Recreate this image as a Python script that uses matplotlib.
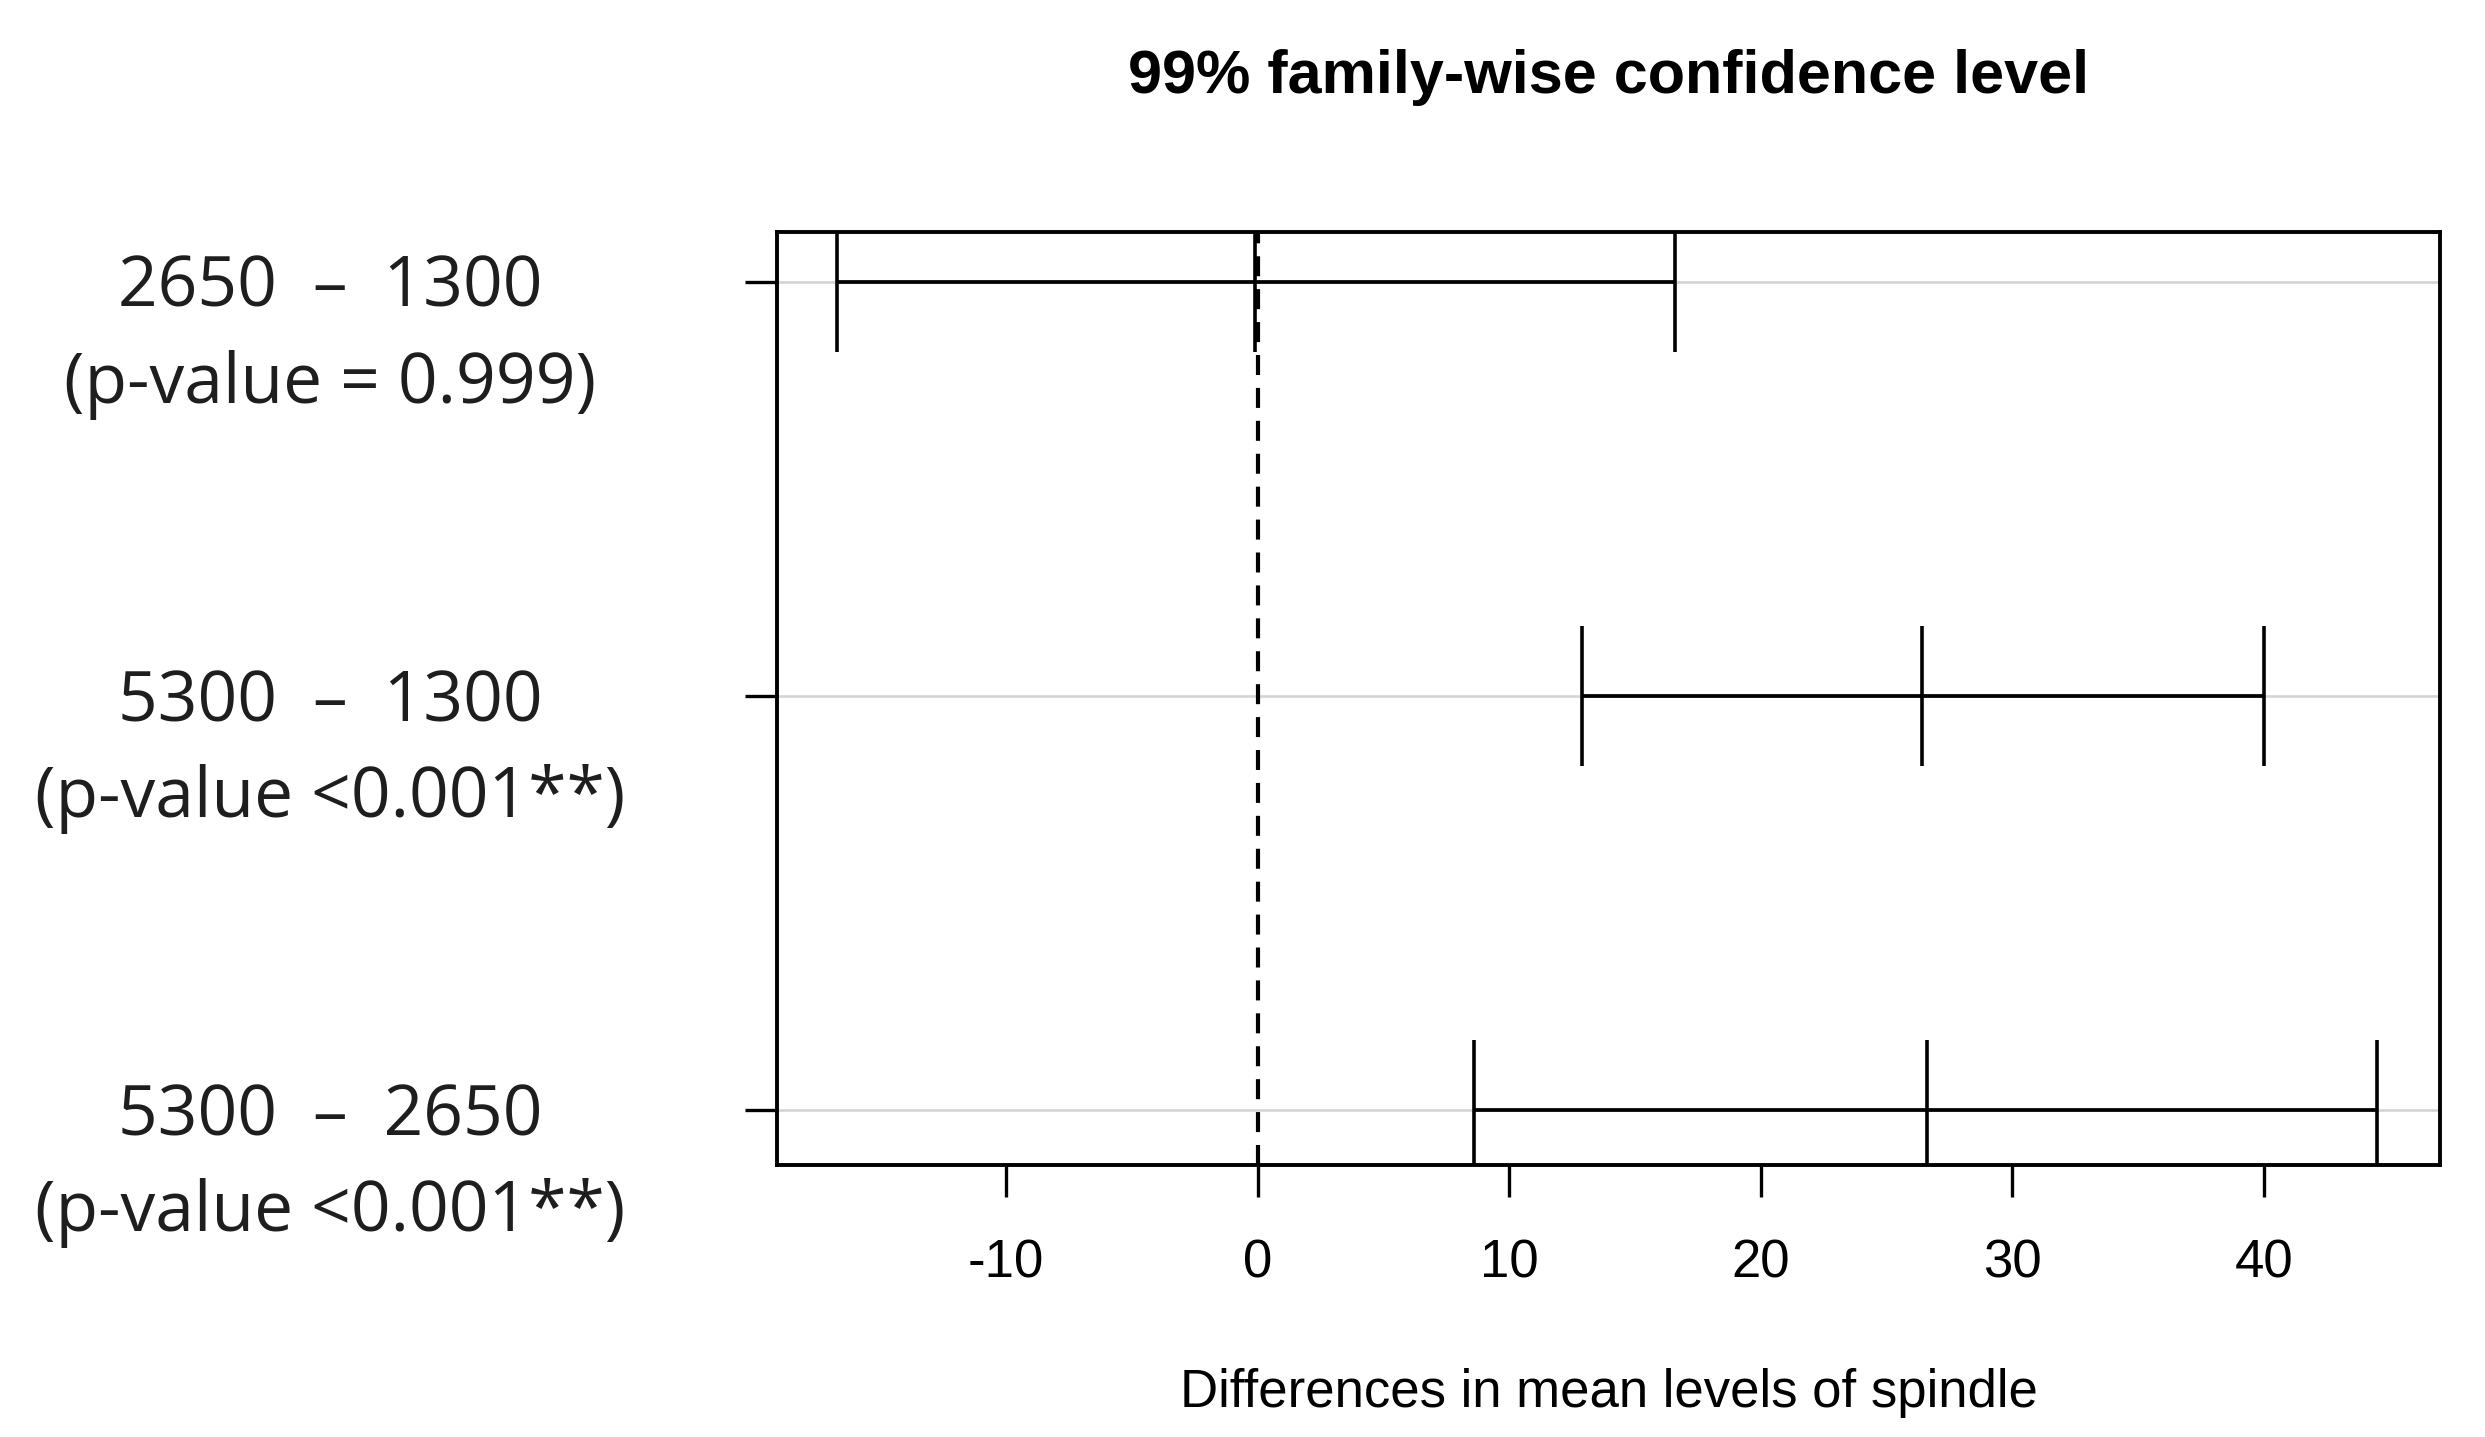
import matplotlib
matplotlib.use("Agg")
import matplotlib.pyplot as plt
import matplotlib.transforms as mtransforms

# Tukey HSD results (spindle speed comparisons)
comparisons = ["2650  \u2013  1300", "5300  \u2013  1300", "5300  \u2013  2650"]
p_labels = ["(p-value = 0.999)", "(p-value <0.001**)", "(p-value <0.001**)"]
diff = [-0.1, 26.4, 26.6]
lwr = [-16.7, 12.9, 8.6]
upr = [16.6, 40.0, 44.5]
xticks = [-10, 0, 10, 20, 30, 40]

plt.rcParams["font.family"] = ["Liberation Sans", "DejaVu Sans"]
plt.rcParams["axes.unicode_minus"] = False

fig = plt.figure(figsize=(24.85, 14.37), dpi=100)
ax = fig.add_axes([777 / 2485, 1 - 1165 / 1437, (2440 - 777) / 2485, (1165 - 232) / 1437])

n = len(comparisons)
yvals = list(range(n, 0, -1))  # top row first, like R

# light grey guide lines at each comparison
for y in yvals:
    ax.axhline(y, color="#d4d4d4", lw=1.9, zorder=1)

# zero reference line
ax.axvline(0, color="black", lw=3.0, linestyle=(0, (4.8, 3.1)), zorder=2)

# intervals
ax.hlines(yvals, lwr, upr, color="black", lw=2.7, zorder=3)
half = 0.17
for vals in (lwr, diff, upr):
    ax.vlines(vals, [y - half for y in yvals], [y + half for y in yvals],
              color="black", lw=2.6, zorder=3)

ax.set_xlim(-19.1, 47.0)
ax.set_ylim(0.868, 3.12)

ax.set_xticks(xticks)
ax.set_xticklabels([str(t) for t in xticks])
ax.set_yticks(yvals)
ax.set_yticklabels([])
ax.tick_params(axis="both", direction="out", length=23, width=2.4, color="black")
ax.tick_params(axis="x", labelsize=38, pad=30)
for s in ax.spines.values():
    s.set_linewidth(2.8)
    s.set_color("black")

ax.set_xlabel("Differences in mean levels of spindle", fontsize=38, labelpad=57)
ax.set_title("99% family-wise confidence level", fontsize=44, fontweight="bold", pad=100)

# two-line comparison labels on the left
trans = mtransforms.blended_transform_factory(fig.transFigure, ax.transData)
off1 = mtransforms.ScaledTranslation(0, -25 / 100, fig.dpi_scale_trans)
off2 = mtransforms.ScaledTranslation(0, -121 / 100, fig.dpi_scale_trans)
for y, c, p in zip(yvals, comparisons, p_labels):
    fig.text(330 / 2485, y, c, transform=trans + off1, ha="center", va="baseline",
             fontsize=50, family=["Open Sans", "DejaVu Sans"], color="#1e1e1e")
    fig.text(330 / 2485, y, p, transform=trans + off2, ha="center", va="baseline",
             fontsize=50, family=["Open Sans", "DejaVu Sans"], color="#1e1e1e")

fig.savefig("out.png", dpi=100)
